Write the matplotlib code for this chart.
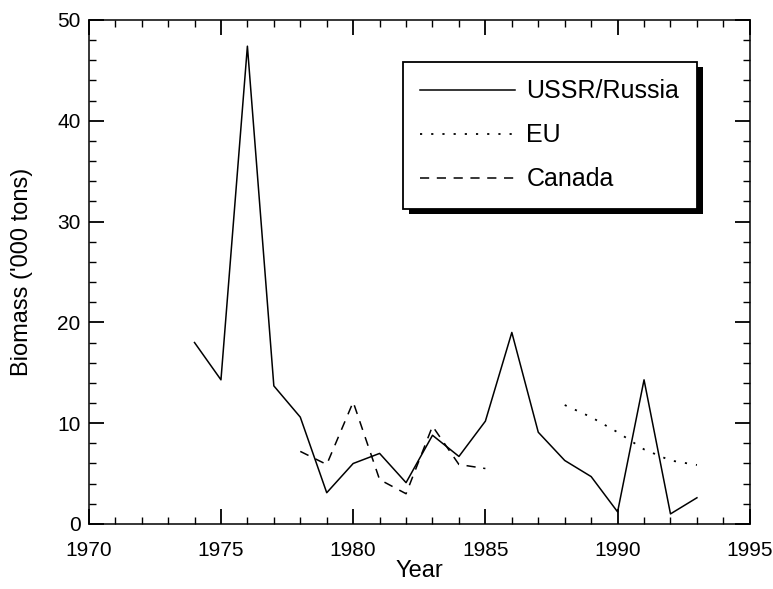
import numpy as np
import matplotlib.pyplot as plt
from matplotlib.patches import Rectangle

plt.rcParams['font.family'] = ['Liberation Sans', 'DejaVu Sans']

# USSR / Russia catch biomass
years_ussr = [1974, 1975, 1976, 1977, 1978, 1979, 1980, 1981, 1982, 1983,
              1984, 1985, 1986, 1987, 1988, 1989, 1990, 1991, 1992, 1993]
biomass_ussr = [18.0, 14.3, 47.4, 13.7, 10.6, 3.1, 6.0, 7.0, 4.1, 8.8,
                6.7, 10.2, 19.0, 9.1, 6.3, 4.7, 1.2, 14.3, 1.0, 2.6]

# EU
years_eu = [1988, 1989, 1990, 1991, 1992, 1993]
biomass_eu = [11.8, 10.6, 9.1, 7.4, 6.3, 5.85]

# Canada
years_can = [1978, 1979, 1980, 1981, 1982, 1983, 1984, 1985]
biomass_can = [7.2, 5.9, 12.1, 4.4, 3.0, 9.7, 5.9, 5.5]

fig = plt.figure(figsize=(7.73, 5.89), dpi=100)
ax = fig.add_axes([0.1148, 0.1104, 0.8552, 0.8557])

ax.plot(years_ussr, biomass_ussr, color='black', lw=1.1, label='USSR/Russia')
ax.plot(years_eu, biomass_eu, color='black', lw=1.3, linestyle=(0, (1.2, 5)), label='EU')
ax.plot(years_can, biomass_can, color='black', lw=1.1, linestyle=(0, (6, 5)), label='Canada')

ax.set_xlim(1970, 1995)
ax.set_ylim(0, 50)
ax.set_xticks(np.arange(1970, 1996, 5))
ax.set_xticks(np.arange(1970, 1996, 1), minor=True)
ax.set_yticks(np.arange(0, 51, 10))
ax.set_yticks(np.arange(0, 51, 2), minor=True)
ax.tick_params(which='both', direction='in', top=True, right=True, labelsize=15, width=1)
ax.tick_params(which='major', length=11, width=1.3)
ax.tick_params(which='minor', length=5)
ax.tick_params(axis='x', which='major', pad=12)
ax.tick_params(axis='y', which='major', pad=6)
for s in ax.spines.values():
    s.set_linewidth(1.1)

ax.set_xlabel('Year', fontsize=17, labelpad=0)
ax.set_ylabel("Biomass ('000 tons)", fontsize=17, labelpad=17)

leg = ax.legend(loc='upper left', bbox_to_anchor=(0.475, 0.917), fontsize=18,
                handlelength=3.8, handletextpad=0.45, labelspacing=0.8,
                borderpad=0.7, borderaxespad=0, fancybox=False, framealpha=1,
                edgecolor='black')
leg.get_frame().set_linewidth(1.3)
leg.set_zorder(5)

# solid black drop shadow behind the legend box
fig.canvas.draw()
bb = leg.get_window_extent().transformed(fig.transFigure.inverted())
dx, dy = 6 / 773, 5 / 589
ax.add_artist(Rectangle((bb.x0 + dx, bb.y0 - dy), bb.width, bb.height,
                        transform=fig.transFigure, facecolor='black',
                        edgecolor='none', zorder=4.5))

fig.savefig('out.png', dpi=100)
